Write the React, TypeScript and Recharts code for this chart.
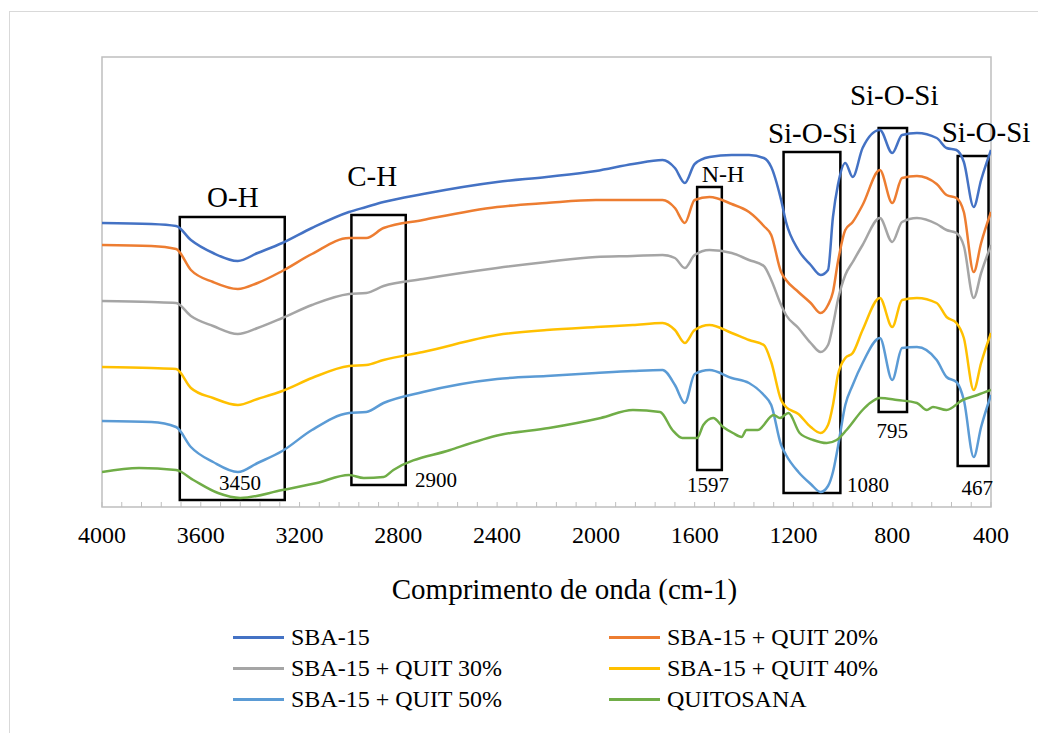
import React from "react";
import { LineChart, Line, XAxis, YAxis, ReferenceArea, ReferenceDot, Label } from "recharts";

const FONT = "'Liberation Serif', 'Times New Roman', serif";

// wavenumbers (cm-1) shared by the five SBA-15 spectra
const wavenumbers = [
  4000, 3800, 3700, 3640, 3550, 3450, 3370, 3270, 3150, 3000, 2930, 2860, 2700, 2400, 2200, 2000,
  1850, 1730, 1680, 1640, 1600, 1540, 1450, 1380, 1320, 1290, 1250, 1230, 1180, 1130, 1090, 1060,
  1040, 1020, 990, 960, 920, 850, 800, 760, 700, 620, 580, 540, 510, 470, 440, 400,
];

// intensities in arbitrary units (offset spectra)
const sba15 = [
  284, 283, 281, 267, 254, 246, 254, 264, 279, 295, 300, 305, 313, 325, 330, 336,
  343, 347, 339, 324, 343, 350, 352, 352, 349, 340, 307, 285, 257, 242, 232, 237,
  290, 322, 344, 330, 359, 377, 354, 372, 374, 369, 359, 357, 345, 300, 327, 357,
];
const quit20 = [
  262, 261, 258, 237, 225, 218, 224, 236, 253, 269, 269, 279, 287, 300, 304, 307,
  307, 307, 299, 284, 307, 310, 303, 295, 281, 272, 235, 227, 215, 204, 194, 202,
  215, 245, 277, 285, 302, 337, 304, 329, 331, 323, 312, 309, 295, 235, 264, 295,
];
const quit30 = [
  206, 205, 204, 191, 181, 173, 179, 189, 202, 213, 214, 221, 228, 239, 245, 250,
  251, 252, 249, 239, 252, 257, 254, 247, 241, 227, 202, 192, 179, 164, 155, 162,
  182, 207, 232, 245, 262, 289, 265, 285, 289, 283, 277, 274, 261, 209, 234, 262,
];
const quit40 = [
  140, 139, 138, 119, 109, 102, 108, 116, 129, 141, 142, 147, 155, 172, 177, 180,
  182, 184, 177, 164, 177, 182, 174, 167, 162, 145, 107, 100, 93, 80, 74, 82,
  102, 132, 149, 154, 177, 209, 180, 207, 209, 204, 190, 184, 169, 117, 144, 174,
];
const quit50 = [
  86, 85, 80, 60, 45, 35, 44, 56, 77, 94, 95, 104, 115, 128, 131, 134,
  136, 137, 122, 104, 133, 137, 129, 124, 112, 102, 62, 52, 35, 23, 15, 21,
  35, 60, 102, 122, 144, 169, 127, 159, 160, 147, 130, 125, 107, 50, 80, 112,
];

const quitosanaWavenumbers = [
  4000, 3850, 3700, 3630, 3530, 3440, 3270, 3130, 3000, 2940, 2860, 2820, 2590, 2390, 2190, 1980,
  1850, 1740, 1690, 1650, 1590, 1565, 1525, 1485, 1445, 1410, 1390, 1345, 1280, 1255, 1220, 1175,
  1120, 1065, 1025, 985, 920, 890, 850, 780, 700, 660, 635, 580, 515, 455, 400,
];
const quitosana = [
  35, 39, 37, 27, 14, 9, 17, 24, 32, 29, 30, 37, 57, 72, 79, 89,
  97, 95, 77, 69, 69, 82, 89, 80, 74, 70, 77, 77, 92, 89, 94, 74,
  67, 64, 67, 77, 97, 104, 109, 107, 104, 97, 100, 97, 107, 112, 117,
];

const majorTicks = [4000, 3600, 3200, 2800, 2400, 2000, 1600, 1200, 800, 400];
const minorTicks = [
  4000, 3920, 3840, 3760, 3680, 3600, 3520, 3440, 3360, 3280, 3200, 3120, 3040, 2960, 2880, 2800,
  2720, 2640, 2560, 2480, 2400, 2320, 2240, 2160, 2080, 2000, 1920, 1840, 1760, 1680, 1600, 1520,
  1440, 1360, 1280, 1200, 1120, 1040, 960, 880, 800, 720, 640, 560, 480, 400,
];

const series = [
  { name: "SBA-15", color: "#4472C4", wn: wavenumbers, y: sba15 },
  { name: "SBA-15 + QUIT 20%", color: "#ED7D31", wn: wavenumbers, y: quit20 },
  { name: "SBA-15 + QUIT 30%", color: "#A5A5A5", wn: wavenumbers, y: quit30 },
  { name: "SBA-15 + QUIT 40%", color: "#FFC000", wn: wavenumbers, y: quit40 },
  { name: "SBA-15 + QUIT 50%", color: "#5B9BD5", wn: wavenumbers, y: quit50 },
  { name: "QUITOSANA", color: "#70AD47", wn: quitosanaWavenumbers, y: quitosana },
];

// marked bands (boxes) and their captions
const bands = [
  { from: 3685, to: 3260, low: 7, high: 290 },
  { from: 2990, to: 2770, low: 22, high: 292 },
  { from: 1590, to: 1490, low: 37, high: 320 },
  { from: 1240, to: 1010, low: 14, high: 355 },
  { from: 855, to: 740, low: 95, high: 379 },
  { from: 535, to: 410, low: 41, high: 351 },
];
const bandNames = [
  { text: "O-H", wn: 3470, at: 300, size: 29 },
  { text: "C-H", wn: 2906, at: 321, size: 29 },
  { text: "N-H", wn: 1485, at: 325, size: 24 },
  { text: "Si-O-Si", wn: 1124, at: 364, size: 29 },
  { text: "Si-O-Si", wn: 792, at: 402, size: 29 },
  { text: "Si-O-Si", wn: 420, at: 365, size: 29 },
];
const peakLabels = [
  { text: "3450", wn: 3441, at: 17 },
  { text: "2900", wn: 2647, at: 20 },
  { text: "1597", wn: 1546, at: 15 },
  { text: "1080", wn: 898, at: 15 },
  { text: "795", wn: 800, at: 69 },
  { text: "467", wn: 456, at: 12 },
];

function WnTick({ x, y, payload }: any) {
  const v = payload.value;
  return (
    <g>
      <line x1={x} x2={x} y1={y} y2={y - 5} stroke="#bfbfbf" strokeWidth={1} />
      {majorTicks.includes(v) && (
        <text x={x} y={y + 36} textAnchor="middle" fontSize={24} fontFamily={FONT} fill="#000">
          {v}
        </text>
      )}
    </g>
  );
}

function textShape(text: string, size: number) {
  return (p: any) => (
    <text x={p.cx} y={p.cy} textAnchor="middle" fontSize={size} fontFamily={FONT} fill="#000">
      {text}
    </text>
  );
}

export default function App() {
  return (
    <div
      style={{
        position: "relative",
        width: 1038,
        height: 733,
        overflow: "hidden",
        background: "#fff",
        fontFamily: FONT,
      }}
    >
      <style>{"body{margin:0;overflow:hidden}"}</style>
      <div
        style={{
          position: "absolute",
          left: 9,
          top: 11,
          width: 1100,
          height: 800,
          borderLeft: "1.5px solid #d9d9d9",
          borderTop: "1.5px solid #d9d9d9",
        }}
      />
      <LineChart
        width={1038}
        height={640}
        margin={{ top: 57, right: 47, bottom: 33, left: 102 }}
        style={{ position: "absolute", left: 0, top: 0 }}
      >
        <XAxis
          type="number"
          dataKey="wn"
          domain={[400, 4000]}
          reversed
          allowDataOverflow
          ticks={minorTicks}
          interval={0}
          tick={(p: any) => <WnTick {...p} />}
          tickLine={false}
          axisLine={false}
          tickSize={0}
          tickMargin={0}
          height={100}
        >
          <Label
            content={(p: any) => (
              <text
                x={p.viewBox.x + p.viewBox.width / 2 + 18}
                y={p.viewBox.y + 92}
                textAnchor="middle"
                fontSize={29}
                fontFamily={FONT}
                fill="#000"
              >
                Comprimento de onda (cm-1)
              </text>
            )}
          />
        </XAxis>
        <YAxis
          type="number"
          domain={[0, 450]}
          allowDataOverflow
          width={0}
          tick={false}
          tickLine={false}
          axisLine={false}
        >
          <Label
            content={(p: any) => {
              const cx = p.viewBox.x - 48;
              const cy = p.viewBox.y + p.viewBox.height / 2 + 7;
              return (
                <text
                  x={cx}
                  y={cy}
                  transform={`rotate(-90, ${cx}, ${cy})`}
                  textAnchor="middle"
                  dominantBaseline="central"
                  fontSize={29}
                  fontFamily={FONT}
                  fill="#000"
                >
                  Intensidade
                </text>
              );
            }}
          />
        </YAxis>

        <ReferenceArea x1={4000} x2={400} y1={0} y2={450} fill="none" stroke="#bfbfbf" strokeWidth={1.5} ifOverflow="visible" />

        {series.map((s) => (
          <Line
            key={s.name}
            name={s.name}
            data={s.wn.map((w, i) => ({ wn: w, v: s.y[i] }))}
            dataKey="v"
            type="monotone"
            stroke={s.color}
            strokeWidth={2.5}
            dot={false}
            activeDot={false}
            isAnimationActive={false}
          />
        ))}

        {bands.map((b, i) => (
          <ReferenceArea
            key={"band" + i}
            x1={b.from}
            x2={b.to}
            y1={b.low}
            y2={b.high}
            fill="none"
            stroke="#000"
            strokeWidth={2.5}
            ifOverflow="visible"
          />
        ))}
        {bandNames.map((t, i) => (
          <ReferenceDot key={"name" + i} x={t.wn} y={t.at} r={0} ifOverflow="visible" shape={textShape(t.text, t.size)} />
        ))}
        {peakLabels.map((t, i) => (
          <ReferenceDot key={"peak" + i} x={t.wn} y={t.at} r={0} ifOverflow="visible" shape={textShape(t.text, 21)} />
        ))}
      </LineChart>

      {series.map((s, i) => {
        const row = Math.floor(i / 2);
        const col = i % 2;
        return (
          <div
            key={s.name}
            style={{
              position: "absolute",
              left: col === 0 ? 233 : 609,
              top: 637 + row * 31 - 14,
              height: 28,
              display: "flex",
              alignItems: "center",
              fontSize: 24,
              color: "#000",
              whiteSpace: "nowrap",
            }}
          >
            <span style={{ display: "inline-block", width: 51, height: 3, background: s.color, marginRight: 7 }} />
            <span>{s.name}</span>
          </div>
        );
      })}
    </div>
  );
}
